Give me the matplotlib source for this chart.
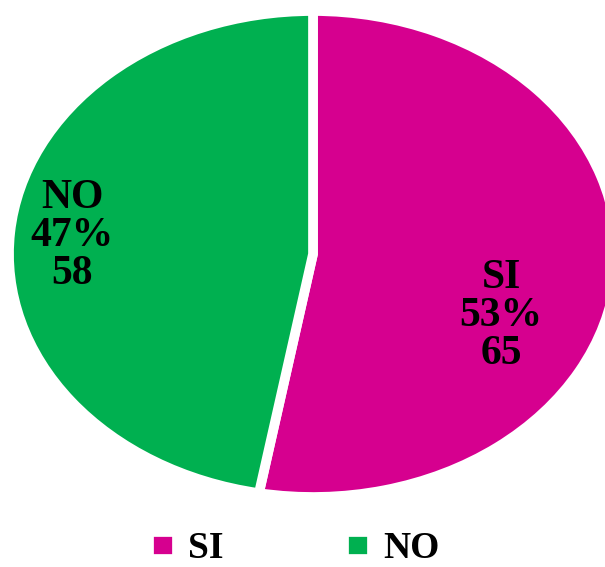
import numpy as np
import matplotlib
matplotlib.use("Agg")
import matplotlib.pyplot as plt

labels = ["SI", "NO"]
counts = [65, 58]
colors = ["#D6008F", "#00B050"]

plt.rcParams['font.family'] = ['Liberation Serif', 'DejaVu Serif']

W, H = 605, 567
fig = plt.figure(figsize=(W / 100, H / 100), dpi=100)
ax = fig.add_axes([0, 0, 1, 1])

wedges, _ = ax.pie(counts, colors=colors, startangle=90, counterclock=False,
                   wedgeprops=dict(edgecolor="white", linewidth=7))

# ellipse in pixels: centre (313, 254), rx 304, ry 243 (edge line eats a bit)
cx, cy, rx, ry = 313, 254, 304, 243
ax.set_aspect("auto")
ax.set_xlim((0 - cx) / rx, (W - cx) / rx)
ax.set_ylim((cy - H) / ry, (cy - 0) / ry)
ax.axis("off")

total = sum(counts)
label_pix = [(501, 316), (72, 236)]
for lab, c, (px, py) in zip(labels, counts, label_pix):
    txt = "%s\n%d%%\n%d" % (lab, round(100 * c / total), c)
    ax.text((px - cx) / rx, (cy - py) / ry, txt, ha="center", va="center",
            fontsize=30, fontweight="bold", linespacing=1.0, color="black")

fig.legend(wedges, labels, loc="center", bbox_to_anchor=(0.486, 1 - 549 / H),
           ncol=2, frameon=False, prop=dict(size=27, weight="bold"),
           handlelength=0.75, handleheight=0.75, handletextpad=0.3,
           columnspacing=3.2)

fig.savefig("out.png", dpi=100)
